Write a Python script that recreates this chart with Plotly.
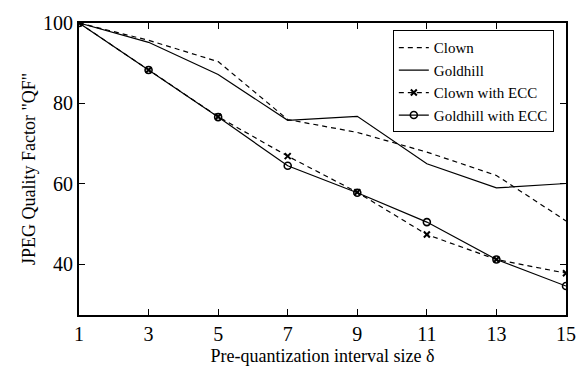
import plotly.graph_objects as go

delta = [1, 3, 5, 7, 9, 11, 13, 15]
clown = [100, 95.7, 90.4, 76.0, 72.8, 67.9, 62.1, 50.8]
goldhill = [100, 95.2, 87.2, 75.8, 76.8, 65.0, 59.0, 60.1]
clown_ecc = [100, 88.3, 76.7, 66.9, 57.9, 47.4, 41.2, 37.8]
goldhill_ecc = [100, 88.3, 76.6, 64.5, 57.8, 50.5, 41.2, 34.6]
x_ticks = [1, 3, 5, 7, 9, 11, 13, 15]
y_ticks = [40, 60, 80, 100]

font = "Liberation Serif, Times New Roman, serif"
fig = go.Figure()
fig.add_trace(go.Scatter(x=delta, y=clown, mode="lines", name="Clown",
                         line=dict(color="black", width=1.2, dash="5px,4px")))
fig.add_trace(go.Scatter(x=delta, y=goldhill, mode="lines", name="Goldhill",
                         line=dict(color="black", width=1.2)))
fig.add_trace(go.Scatter(x=delta, y=clown_ecc, mode="lines+markers", name="Clown with ECC",
                         line=dict(color="black", width=1.2, dash="5px,4px"),
                         marker=dict(symbol="x-thin", size=6, color="black",
                                     line=dict(color="black", width=2))))
fig.add_trace(go.Scatter(x=delta, y=goldhill_ecc, mode="lines+markers", name="Goldhill with ECC",
                         line=dict(color="black", width=1.2),
                         marker=dict(symbol="circle-open", size=7, color="black",
                                     line=dict(color="black", width=1.6))))

fig.update_layout(
    width=588, height=375,
    margin=dict(l=79, r=12, t=15, b=57),
    paper_bgcolor="white", plot_bgcolor="white",
    font=dict(family=font, size=20, color="black"),
    showlegend=True,
    legend=dict(x=0.975, y=0.975, xanchor="right", yanchor="top",
                bgcolor="white", bordercolor="black", borderwidth=1,
                font=dict(family=font, size=15), tracegroupgap=0,
                itemwidth=30),
    xaxis=dict(range=[1, 15], tickvals=x_ticks, ticks="inside", ticklen=6,
               showgrid=False, zeroline=False, showline=True, linecolor="black",
               linewidth=2, mirror="ticks", tickcolor="black",
               tickfont=dict(size=20),
               title=dict(text="Pre-quantization interval size δ", standoff=5,
                          font=dict(size=18))),
    yaxis=dict(range=[27.4, 100], tickvals=y_ticks, ticks="inside", ticklen=6,
               showgrid=False, zeroline=False, showline=True, linecolor="black",
               linewidth=2, mirror="ticks", tickcolor="black",
               tickfont=dict(size=20),
               title=dict(text='JPEG Quality Factor "QF"', standoff=3,
                          font=dict(size=18))),
)
fig.write_html("out.html")
